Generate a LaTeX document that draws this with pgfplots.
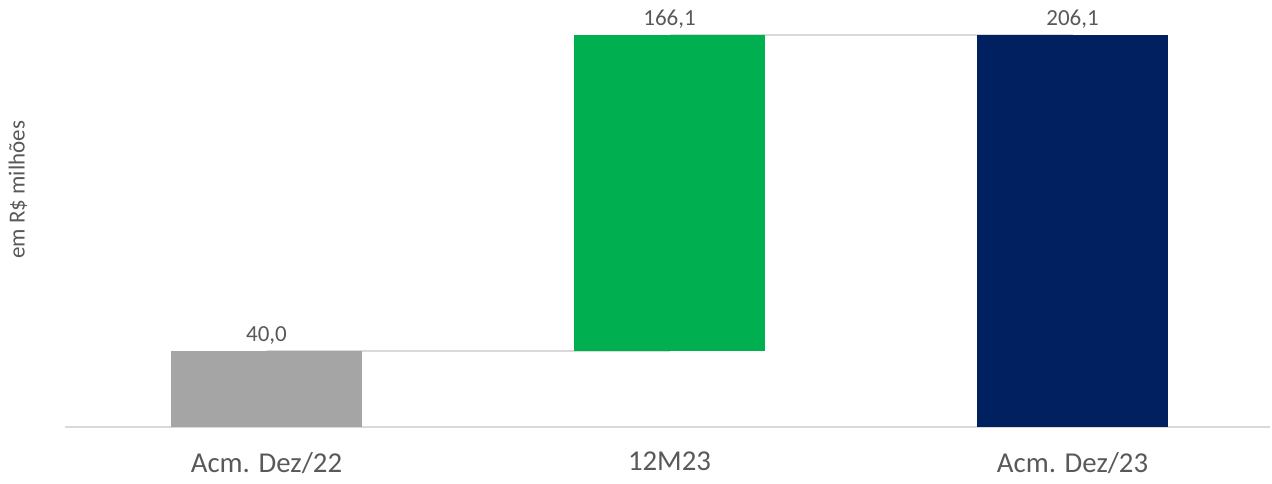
\documentclass[border=0pt]{standalone}
\usepackage{pgfplots}
\pgfplotsset{compat=1.18}
\usepackage{fontspec}
\setmainfont{Carlito}
\definecolor{cgray}{HTML}{A5A5A5}
\definecolor{cgreen}{HTML}{00B050}
\definecolor{cnavy}{HTML}{002060}
\definecolor{ctext}{HTML}{595959}
\definecolor{cline}{HTML}{D9D9D9}
\begin{document}
\begin{tikzpicture}
\useasboundingbox (0,0) rectangle (636pt,241.5pt);
\begin{axis}[
  at={(32.5pt,28pt)}, anchor=south west,
  scale only axis, width=602.5pt, height=196pt,
  xmin=-0.5, xmax=2.49, ymin=0, ymax=206.1,
  enlargelimits=false, clip=false,
  axis x line=bottom, axis y line=none,
  x axis line style={draw=cline, line width=1pt, -},
  xtick={0,1,2},
  xticklabels={Acm. Dez/22, 12M23, Acm. Dez/23},
  major tick length=0pt,
  xticklabel style={font=\fontsize{14.4}{16}\selectfont, text=ctext, yshift=-9pt},
  ytick=\empty,
]
% connector lines
\addplot[sharp plot, draw=cline, line width=1pt, forget plot] coordinates {(0,40) (1,40)};
\addplot[sharp plot, draw=cline, line width=1pt, forget plot] coordinates {(1,206.1) (2,206.1)};
% stacked waterfall bars
\addplot[ybar stacked, bar width=95.5pt, draw=none, fill=none] coordinates {(0,0) (1,40) (2,0)};
\addplot[ybar stacked, bar width=95.5pt, draw=none, fill=cgray] coordinates {(0,40) (1,0) (2,0)};
\addplot[ybar stacked, bar width=95.5pt, draw=none, fill=cgreen] coordinates {(0,0) (1,166.1) (2,0)};
\addplot[ybar stacked, bar width=95.5pt, draw=none, fill=cnavy] coordinates {(0,0) (1,0) (2,206.1)};
\node[above, font=\fontsize{11.5}{13}\selectfont, text=ctext, inner sep=3pt] at (axis cs:0,40) {40,0};
\node[above, font=\fontsize{11.5}{13}\selectfont, text=ctext, inner sep=3pt] at (axis cs:1,206.1) {166,1};
\node[above, font=\fontsize{11.5}{13}\selectfont, text=ctext, inner sep=3pt] at (axis cs:2,206.1) {206,1};
\node[rotate=90, font=\fontsize{11.5}{13}\selectfont, text=ctext] at ([xshift=-23.5pt]rel axis cs:0,0.605) {em R\$ milhões};
\end{axis}
\end{tikzpicture}
\end{document}
